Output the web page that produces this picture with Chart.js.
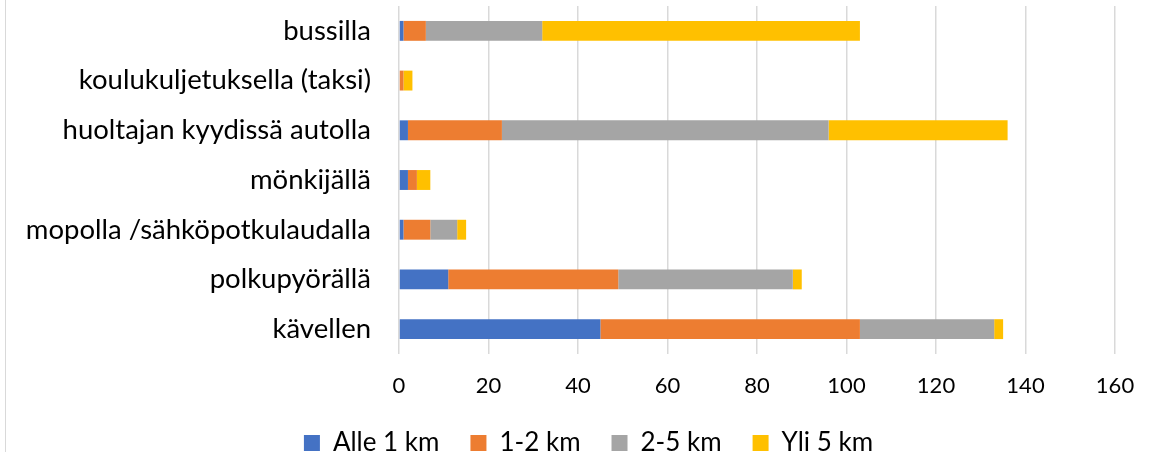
<!DOCTYPE html>
<html>
<head>
    <title>Kulkutapa ja matka</title>
    <script src="https://cdn.jsdelivr.net/npm/chart.js"></script>
    <style>
        html, body { margin: 0; padding: 0; background: #fff; overflow: hidden; }
        #wrap { position: relative; width: 1156px; height: 466px; }
        #edge { position: absolute; left: 5px; top: 0; width: 0; height: 466px; border-left: 1.5px solid #d9d9d9; }
    </style>
</head>
<body>
    <div id="wrap">
        <div id="edge"></div>
        <canvas id="myChart" width="1156" height="466"></canvas>
    </div>

    <script>
        // categories, top to bottom
        var categories = ['bussilla', 'koulukuljetuksella (taksi)', 'huoltajan kyydissä autolla', 'mönkijällä',
            'mopolla /sähköpotkulaudalla', 'polkupyörällä', 'kävellen'];

        // values per distance group
        var alle1km = [1, 0, 2, 2, 1, 11, 45];
        var km1to2 = [5, 1, 21, 2, 6, 38, 58];
        var km2to5 = [26, 0, 73, 0, 6, 39, 30];
        var yli5km = [71, 2, 40, 3, 2, 2, 2];

        var xTicks = [0, 20, 40, 60, 80, 100, 120, 140, 160];

        var seriesNames = ['Alle 1 km', '1-2 km', '2-5 km', 'Yli 5 km'];
        var seriesColors = ['#4472c4', '#ed7d31', '#a5a5a5', '#ffc000'];
        var seriesData = [alle1km, km1to2, km2to5, yli5km];

        var fontName = 'Lato';

        var datasets = seriesNames.map(function (name, i) {
            return {
                label: name,
                data: seriesData[i],
                backgroundColor: seriesColors[i],
                borderWidth: 0,
                barPercentage: 0.4,
                categoryPercentage: 1.0
            };
        });

        // legend in the reference sits a bit right of the canvas middle
        var legendShift = {
            id: 'legendShift',
            afterLayout: function (chart) {
                chart.legend.left += 31;
                chart.legend.right += 31;
            }
        };

        var ctx = document.getElementById('myChart').getContext('2d');
        var myChart = new Chart(ctx, {
            type: 'bar',
            data: {
                labels: categories,
                datasets: datasets
            },
            plugins: [legendShift],
            options: {
                indexAxis: 'y',
                responsive: false,
                animation: false,
                layout: {
                    padding: { top: 6, right: 41, left: 0, bottom: 0 }
                },
                scales: {
                    x: {
                        stacked: true,
                        min: 0,
                        max: 160,
                        afterBuildTicks: function (scale) {
                            scale.ticks = xTicks.map(function (v) { return { value: v }; });
                        },
                        afterFit: function (scale) { scale.height = 45; },
                        grid: { color: '#d9d9d9', lineWidth: 1.5, drawTicks: false },
                        border: { display: false },
                        ticks: {
                            color: '#000',
                            padding: 19,
                            font: { family: fontName, size: 22 }
                        }
                    },
                    y: {
                        stacked: true,
                        afterFit: function (scale) {
                            scale.width = 399;
                            scale.paddingTop = 0;
                            scale.paddingBottom = 0;
                        },
                        grid: { display: false },
                        border: { display: false },
                        ticks: {
                            color: '#000',
                            padding: 20,
                            font: { family: fontName, size: 27.5 }
                        }
                    }
                },
                plugins: {
                    legend: {
                        position: 'bottom',
                        labels: {
                            color: '#000',
                            boxWidth: 16,
                            boxHeight: 16,
                            padding: 31,
                            font: { family: fontName, size: 26 }
                        }
                    },
                    tooltip: { enabled: false }
                }
            }
        });
    </script>
</body>
</html>
